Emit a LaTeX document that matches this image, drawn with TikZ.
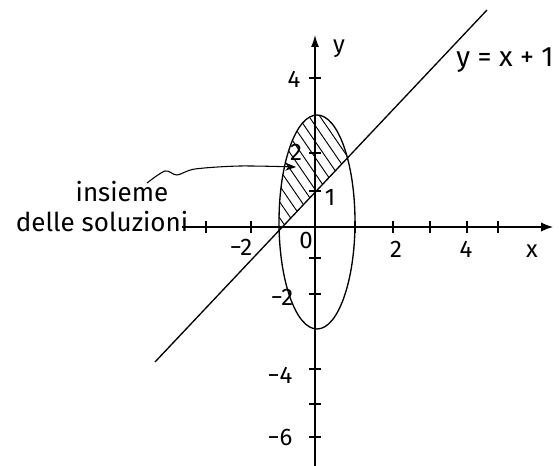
\documentclass[tikz,border=0pt]{standalone}
\usepackage{fontspec}
\setmainfont{Fira Sans}
\usetikzlibrary{arrows.meta}
\begin{document}
\begin{tikzpicture}[x=0.75pt,y=-0.75pt,
  axis/.style={line width=0.9pt},
  curve/.style={line width=1pt},
  tickmark/.style={line width=0.8pt},
  lbl/.style={font=\fontsize{18}{20}\selectfont, inner sep=0pt},
  txt/.style={font=\fontsize{19.5}{22}\selectfont, inner sep=0pt},
  hatch/.style={line width=0.7pt}]
\useasboundingbox[fill=white] (0,0) rectangle (559,466);
% axes
\coordinate (xl) at (182,227);
\coordinate (xr) at (553,227);
\coordinate (yb) at (315,466);
\coordinate (yt) at (315,35);
\draw[axis,-{Latex[length=9pt,width=7pt]}] (xl) -- (xr);
\draw[axis,-{Latex[length=9pt,width=6pt]}] (yb) -- (yt);
\foreach \x in {206,251,355,393,430,467,498} \draw[tickmark] (\x,221) -- (\x,233);
\foreach \y in {78,153,191,258,294,369,404,437} \draw[tickmark] (309,\y) -- (321,\y);
% hatching
\begin{scope}
\clip (317,222) ellipse [x radius=38, y radius=107];
\clip (155,362) -- (487,10) -- (487,-20) -- (100,-20) -- (100,362) -- cycle;
\foreach \k in {-200,-189,...,400} \draw[hatch] (\k,0) -- ({\k+320},466);
\end{scope}
% ellipse and line
\draw[curve] (317,222) ellipse [x radius=38, y radius=107];
\coordinate (L1) at (155,362);
\coordinate (L2) at (487,10);
\draw[curve] (L1) -- (L2);
% labels
\node[lbl] (ylab) at (339,49) {y};
\node[lbl] (xlab) at (532,251) {x};
\node[lbl] (y4) at (294,79) {4};
\node[lbl] (y2) at (296,152) {2};
\node[lbl] (y1) at (330,197) {1};
\node[lbl] (ym2) at (282,297) {−2};
\node[lbl] (ym4) at (280,375) {−4};
\node[lbl] (ym6) at (280,437) {−6};
\node[lbl] (xm2) at (241,247) {−2};
\node[lbl] (x0) at (306,240) {0};
\node[lbl] (x2) at (396,249) {2};
\node[lbl] (x4) at (466,249) {4};
\node[txt,font=\fontsize{21}{24}\selectfont] (eq) at (505,60) {y = x + 1};
\node[txt] (ins) at (122,192) {insieme};
\node[txt] (sol) at (102,222) {delle soluzioni};
% pointer
\coordinate (p0) at (147,183);
\coordinate (p1) at (296,167);
\draw[line width=0.8pt,-{Stealth[length=8pt,width=6pt]}] plot[smooth] coordinates {(p0) (165,171) (177,175) (195,169) (240,166) (p1)};
\end{tikzpicture}
\end{document}
